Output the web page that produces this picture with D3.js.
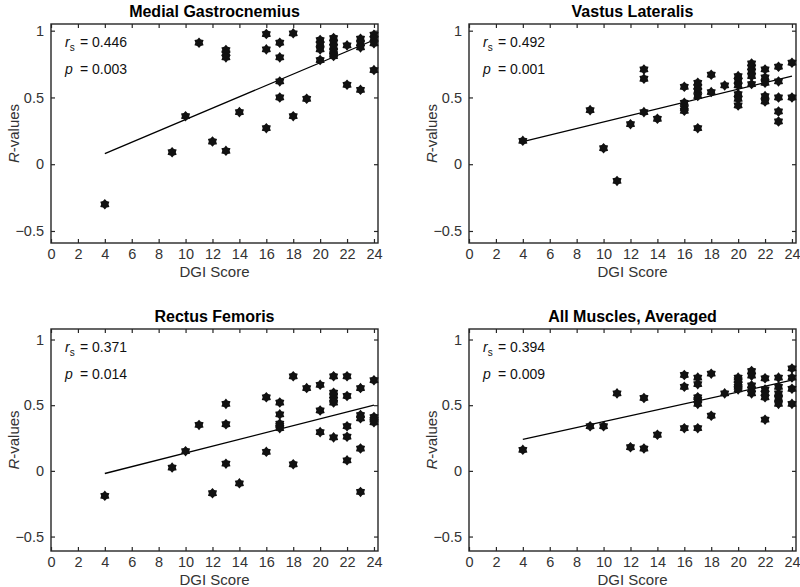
<!DOCTYPE html>
<html><head><meta charset="utf-8">
<script src="https://cdn.jsdelivr.net/npm/d3@7"></script>
<style>body{margin:0;background:#fff}svg{display:block}</style>
</head><body>
<svg id="chart" width="800" height="587"></svg>
<script>
// ---- data ----
const titles = ["Medial Gastrocnemius", "Vastus Lateralis", "Rectus Femoris", "All Muscles, Averaged"];
const rsValues = ["0.446", "0.492", "0.371", "0.394"];
const pValues = ["0.003", "0.001", "0.014", "0.009"];
const xTicks = [0, 2, 4, 6, 8, 10, 12, 14, 16, 18, 20, 22, 24];
const yTicks = [-0.5, 0, 0.5, 1];
const xAxisLabel = "DGI Score";

const mgX = [4,9,10,11,12,13,13,13,13,14,16,16,16,17,17,17,17,18,18,19,20,20,20,20,21,21,21,21,21,21,22,22,23,23,23,23,24,24,24,24];
const mgY = [-0.30,0.09,0.36,0.91,0.17,0.855,0.83,0.80,0.10,0.39,0.975,0.86,0.27,0.91,0.80,0.62,0.50,0.98,0.36,0.49,0.93,0.90,0.86,0.78,0.945,0.91,0.88,0.845,0.825,0.81,0.89,0.595,0.94,0.905,0.875,0.557,0.97,0.94,0.905,0.705];
const mgFit = [0.08, 0.93];

const vlX = [4,9,10,11,12,13,13,13,14,16,16,16,16,17,17,17,17,17,18,18,19,20,20,20,20,20,20,21,21,21,21,21,22,22,22,22,22,23,23,23,23,23,24,24];
const vlY = [0.175,0.405,0.12,-0.125,0.30,0.71,0.64,0.39,0.34,0.58,0.46,0.42,0.40,0.61,0.58,0.55,0.51,0.27,0.67,0.54,0.59,0.66,0.625,0.59,0.525,0.49,0.44,0.755,0.725,0.695,0.66,0.60,0.71,0.65,0.61,0.51,0.47,0.73,0.62,0.50,0.395,0.32,0.76,0.50];
const vlFit = [0.17, 0.66];

const rfX = [4,9,10,11,12,13,13,13,14,16,16,17,17,17,17,17,18,18,19,20,20,20,21,21,21,21,21,21,22,22,22,22,22,23,23,23,23,23,24,24,24,24];
const rfY = [-0.19,0.025,0.15,0.35,-0.17,0.51,0.355,0.055,-0.095,0.56,0.145,0.52,0.43,0.36,0.345,0.325,0.72,0.05,0.63,0.655,0.46,0.295,0.72,0.595,0.575,0.54,0.52,0.255,0.72,0.57,0.34,0.26,0.08,0.63,0.425,0.40,0.17,-0.16,0.69,0.41,0.39,0.37];
const rfFit = [-0.02, 0.50];

const amX = [4,9,10,11,12,13,13,14,16,16,16,17,17,17,17,17,17,18,18,19,20,20,20,20,20,21,21,21,21,21,22,22,22,22,22,23,23,23,23,23,24,24,24,24];
const amY = [0.16,0.34,0.34,0.59,0.18,0.555,0.17,0.275,0.73,0.64,0.325,0.71,0.66,0.56,0.54,0.51,0.325,0.74,0.42,0.59,0.71,0.69,0.66,0.64,0.62,0.76,0.725,0.65,0.62,0.59,0.705,0.62,0.59,0.56,0.39,0.71,0.64,0.59,0.55,0.51,0.78,0.71,0.625,0.51];
const amFit = [0.24, 0.69];

const fitRange = [4, 24];

// ---- layout ----
const FONT = "'Liberation Sans', Arial, Helvetica, sans-serif";
const layout = [
  {left: 51, right: 378, top: 24, bottom: 243, yDom: [-0.59, 1.05]},
  {left: 469, right: 796, top: 24, bottom: 243, yDom: [-0.59, 1.05]},
  {left: 51, right: 378, top: 329, bottom: 551, yDom: [-0.61, 1.08]},
  {left: 469, right: 796, top: 329, bottom: 551, yDom: [-0.61, 1.08]}
];
const series = [[mgX, mgY, mgFit], [vlX, vlY, vlFit], [rfX, rfY, rfFit], [amX, amY, amFit]];

const hexagram = {
  draw(ctx, size) {
    const ro = Math.sqrt(size) * 0.62, ri = ro * 0.7;
    for (let i = 0; i < 12; i++) {
      const a = i * Math.PI / 6 - Math.PI / 2;
      const r = i % 2 ? ri : ro;
      const px = r * Math.cos(a), py = r * Math.sin(a);
      if (i === 0) ctx.moveTo(px, py); else ctx.lineTo(px, py);
    }
    ctx.closePath();
  }
};
const sym = d3.symbol().type(hexagram).size(72);

const svg = d3.select("#chart");
svg.append("rect").attr("width", 800).attr("height", 587).attr("fill", "#fff");

layout.forEach((L, i) => {
  const [xs, ys, fit] = series[i];
  const x = d3.scaleLinear().domain([0, 24.3]).range([L.left, L.right]);
  const y = d3.scaleLinear().domain(L.yDom).range([L.bottom, L.top]);
  const g = svg.append("g");

  // axes (inward ticks on all sides)
  const axColor = "#262626";
  const fmtY = d => d === 0 ? "0" : d3.format("")(d);
  const gb = g.append("g").attr("transform", `translate(0,${L.bottom})`)
    .call(d3.axisBottom(x).tickValues(xTicks).tickSizeInner(-4).tickSizeOuter(0).tickPadding(6));
  const gt = g.append("g").attr("transform", `translate(0,${L.top})`)
    .call(d3.axisTop(x).tickValues(xTicks).tickSizeInner(-4).tickSizeOuter(0).tickFormat(""));
  const gl = g.append("g").attr("transform", `translate(${L.left},0)`)
    .call(d3.axisLeft(y).tickValues(yTicks).tickSizeInner(-4).tickSizeOuter(0).tickPadding(7).tickFormat(fmtY));
  const gr = g.append("g").attr("transform", `translate(${L.right},0)`)
    .call(d3.axisRight(y).tickValues(yTicks).tickSizeInner(-4).tickSizeOuter(0).tickFormat(""));
  [gb, gt, gl, gr].forEach(a => {
    a.select(".domain").remove();
    a.selectAll("line").attr("stroke", axColor).attr("stroke-width", 1.2);
    a.selectAll("text").attr("fill", "#333").style("font-family", FONT).style("font-size", "14.5px");
  });
  g.append("rect").attr("x", L.left).attr("y", L.top)
    .attr("width", L.right - L.left).attr("height", L.bottom - L.top)
    .attr("fill", "none").attr("stroke", axColor).attr("stroke-width", 1.4);

  // title
  g.append("text").attr("x", (L.left + L.right) / 2).attr("y", L.top - 7)
    .attr("text-anchor", "middle").style("font-family", FONT).style("font-weight", "bold")
    .style("font-size", "16px").attr("fill", "#000").text(titles[i]);

  // x label
  g.append("text").attr("x", (L.left + L.right) / 2).attr("y", L.bottom + 34)
    .attr("text-anchor", "middle").style("font-family", FONT).style("font-size", "15px")
    .attr("fill", "#333").text(xAxisLabel);

  // y label
  const yl = g.append("text")
    .attr("transform", `translate(${L.left - 37},${(L.top + L.bottom) / 2}) rotate(-90)`)
    .attr("dy", "0.35em")
    .attr("text-anchor", "middle").style("font-family", FONT).style("font-size", "15px").attr("fill", "#333");
  yl.append("tspan").style("font-style", "italic").text("R");
  yl.append("tspan").text("-values");

  // stats annotation
  const ax0 = L.left + 14, eqX = L.left + 29;
  const t1 = g.append("text").attr("x", ax0).attr("y", L.top + 23)
    .style("font-family", FONT).style("font-size", "14px").attr("fill", "#111");
  t1.append("tspan").style("font-style", "italic").text("r");
  t1.append("tspan").attr("dy", 4).style("font-size", "10px").text("s");
  g.append("text").attr("x", eqX).attr("y", L.top + 23)
    .style("font-family", FONT).style("font-size", "14px").attr("fill", "#111")
    .text("= " + rsValues[i]);
  g.append("text").attr("x", ax0).attr("y", L.top + 50)
    .style("font-family", FONT).style("font-size", "14px").style("font-style", "italic")
    .attr("fill", "#111").text("p");
  g.append("text").attr("x", eqX).attr("y", L.top + 50)
    .style("font-family", FONT).style("font-size", "14px").attr("fill", "#111")
    .text("= " + pValues[i]);

  // regression line
  g.append("path")
    .datum(fitRange.map((fx, k) => [fx, fit[k]]))
    .attr("d", d3.line().x(d => x(d[0])).y(d => y(d[1])))
    .attr("fill", "none").attr("stroke", "#000").attr("stroke-width", 1.3);

  // points
  g.append("g").selectAll("path").data(xs.map((v, k) => [v, ys[k]])).join("path")
    .attr("transform", d => `translate(${x(d[0])},${y(d[1])})`)
    .attr("d", sym).attr("fill", "#111");
});
</script>
</body></html>
